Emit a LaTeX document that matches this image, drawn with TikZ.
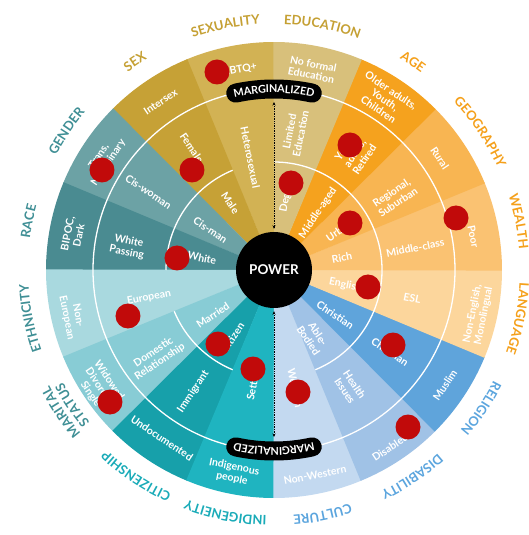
\documentclass[tikz,border=0pt]{standalone}
\usepackage{fontspec}
\setmainfont{Lato}
\usetikzlibrary{decorations.text,arrows.meta}

% sector colours
\definecolor{cSexuality}{HTML}{D2B254}
\definecolor{cSex}{HTML}{C6A136}
\definecolor{cGender}{HTML}{6CA2A5}
\definecolor{cRace}{HTML}{4A8B91}
\definecolor{cEthnicity}{HTML}{A9D9DF}
\definecolor{cMarital}{HTML}{88CCD5}
\definecolor{cCitizen}{HTML}{17A0AA}
\definecolor{cIndig}{HTML}{1FB4C0}
\definecolor{cCulture}{HTML}{C3D9F0}
\definecolor{cDisab}{HTML}{A0C2E6}
\definecolor{cRelig}{HTML}{5FA4DB}
\definecolor{cLang}{HTML}{FCD69C}
\definecolor{cWealth}{HTML}{FAC272}
\definecolor{cGeo}{HTML}{F8B552}
\definecolor{cAge}{HTML}{F5A21E}
\definecolor{cEdu}{HTML}{D8C07B}
% heading colours
\definecolor{hGold}{HTML}{C5A033}
\definecolor{hOrange}{HTML}{F5A01A}
\definecolor{hBlue}{HTML}{5BA5DE}
\definecolor{hTeal}{HTML}{19ABB8}
\definecolor{hDark}{HTML}{3F8F95}
\definecolor{dotred}{HTML}{C10A0A}

\tikzset{
  wedgelabel/.style={text=white, font=\fontsize{10.5}{11.5}\selectfont\bfseries, align=center, inner sep=0pt},
  ringline/.style={white, line width=1.3pt},
  reddot/.style={fill=dotred},
  pill/.style={line width=19pt, line cap=round, black},
  pointer/.style={densely dotted, line width=0.7pt, {Stealth[length=3.5pt,width=3pt]}-{Stealth[length=3.5pt,width=3pt]}},
}

\newcommand\catfont{\fontsize{13}{13}\selectfont\bfseries}
\newcommand\pillfont{\fontsize{10.8}{10.8}\selectfont\bfseries}
% heading set along a clockwise arc: centre angle, radius, colour, text
\newcommand\catlabel[4]{\path[decorate,decoration={text along path,text={|\catfont|#4},text align=center,text color=#3}] ({#1+25}:#2) arc[start angle={#1+25},end angle={#1-25},radius=#2];}

\begin{document}
\begin{tikzpicture}
\useasboundingbox (-274pt,-265pt) rectangle (255pt,270pt);
\fill[white] (-274pt,-265pt) rectangle (255pt,270pt);

% sectors
\foreach \a/\c in {90/cSexuality,112.5/cSex,135/cGender,157.5/cRace,180/cEthnicity,202.5/cMarital,225/cCitizen,247.5/cIndig,270/cCulture,292.5/cDisab,315/cRelig,337.5/cLang,0/cWealth,22.5/cGeo,45/cAge,67.5/cEdu}
  \fill[\c] (0,0) -- ({\a-0.15}:228pt) arc[start angle={\a-0.15},end angle={\a+22.65},radius=228pt] -- cycle;

% ring lines
\draw[ringline] (0,0) circle (181pt);
\draw[ringline] (292.5:108pt) arc[start angle=292.5,end angle=450,radius=108pt];
\draw[ringline] (112.5:108pt) arc[start angle=112.5,end angle=180,radius=108pt];
\draw[ringline] (202.5:108pt) arc[start angle=202.5,end angle=247.5,radius=108pt];

% sector labels
\node[wedgelabel,rotate=11.25] (lgbt) at (100.5:203pt) {LGBTQ+};
\node[wedgelabel,rotate=-78.75] (hetero) at (101.9:115pt) {Heterosexual};
\node[wedgelabel,rotate=33.75] (intersex) at (124:203pt) {Intersex};
\node[wedgelabel,rotate=-56.25] (female) at (124:147pt) {Female};
\node[wedgelabel,rotate=-56.25] (male) at (123:80pt) {Male};
\node[wedgelabel,rotate=56.25] (trans) at (147:203pt) {Trans,\\Non-binary};
\node[wedgelabel,rotate=-33.75] (ciswoman) at (148:148pt) {Cis-woman};
\node[wedgelabel,rotate=-33.75] (cisman) at (148:75pt) {Cis-man};
\node[wedgelabel,rotate=78.75] (bipoc) at (170:204pt) {BIPOC,\\Dark};
\node[wedgelabel,rotate=-11.25] (passing) at (171:148pt) {White\\Passing};
\node[wedgelabel,rotate=-11.25] (white) at (170.5:73pt) {White};
\node[wedgelabel,rotate=281.25] (noneuro) at (193:207pt) {Non-\\European};
\node[wedgelabel,rotate=11.25] (euro) at (192.4:128pt) {European};
\node[wedgelabel,rotate=303.75] (widowed) at (214.1:210pt) {Widowed,\\Divorced,\\Single};
\node[wedgelabel,rotate=33.75] (domestic) at (216.6:146pt) {Domestic\\Relationship};
\node[wedgelabel,rotate=33.75] (married) at (216.4:76pt) {Married};
\node[wedgelabel,rotate=326.25] (undoc) at (236.3:202pt) {Undocumented};
\node[wedgelabel,rotate=56.25] (immig) at (236.4:146pt) {Immigrant};
\node[wedgelabel,rotate=56.25] (citizen) at (238.5:79pt) {Citizen};
\node[wedgelabel,rotate=348.75] (indig) at (258.6:207pt) {Indigenous\\people};
\node[wedgelabel,rotate=78.75] (settler) at (259.7:117pt) {Settler};
\node[wedgelabel,rotate=11.25] (nonwest) at (281.3:209pt) {Non-Western};
\node[wedgelabel,rotate=-78.75] (west) at (280.1:120pt) {Western};
\node[wedgelabel,rotate=33.75] (disabled) at (303.2:212pt) {Disabled};
\node[wedgelabel,rotate=-56.25] (health) at (302.8:140pt) {Health\\Issues};
\node[wedgelabel,rotate=-56.25] (able) at (300.2:78pt) {Able-\\Bodied};
\node[wedgelabel,rotate=56.25] (muslim) at (326.1:206pt) {Muslim};
\node[wedgelabel,rotate=-33.75] (christmid) at (324.7:142pt) {Christian};
\node[wedgelabel,rotate=-33.75] (christin) at (323.6:76pt) {Christian};
\node[wedgelabel,rotate=78.75] (nonenglish) at (347.6:209pt) {Non-English,\\Monolingual};
\node[wedgelabel,rotate=-11.25] (esl) at (348.5:141pt) {ESL};
\node[wedgelabel,rotate=-11.25] (english) at (348.1:73pt) {English};
\node[wedgelabel,rotate=-78.75] (poor) at (9.4:202pt) {Poor};
\node[wedgelabel,rotate=11.25] (midclass) at (8.9:143pt) {Middle-class};
\node[wedgelabel,rotate=11.25] (rich) at (10:69pt) {Rich};
\node[wedgelabel,rotate=-56.25] (rural) at (34:200pt) {Rural};
\node[wedgelabel,rotate=33.75] (regional) at (31.1:141pt) {Regional,\\Suburban};
\node[wedgelabel,rotate=33.75] (urban) at (31:76pt) {Urban};
\node[wedgelabel,rotate=-33.75] (older) at (56.9:203pt) {Older adults,\\Youth,\\Children};
\node[wedgelabel,rotate=56.25] (young) at (55.3:142pt) {Young\\adults,\\Retired};
\node[wedgelabel,rotate=56.25] (midaged) at (52.3:72pt) {Middle-aged};
\node[wedgelabel,rotate=-11.25] (noformal) at (79.2:204pt) {No formal\\Education};
\node[wedgelabel,rotate=78.75] (limited) at (81.3:139pt) {Limited\\Education};
\node[wedgelabel,rotate=78.75] (degree) at (80.2:76pt) {Degree};

% markers
\foreach \x/\y in {-57/198,-172/100,-82/100,-97/12,76/125,17/87,76/47,182/52,-146/-46,-56/-74,-21/-99,-164/-132,94/-17,119/-75,24/-122,134/-157}
  \fill[reddot] (\x pt,\y pt) circle (12.5pt);

% centre
\node[circle,fill=black,minimum size=76pt,inner sep=0pt,text=white,font=\fontsize{13.5}{13.5}\selectfont\bfseries] (power) at (0,0) {POWER};

% marginalized tags on the ring
\draw[pill] (102.2:181pt) arc[start angle=102.2,end angle=77.8,radius=181pt];
\draw[pill] (282.2:181pt) arc[start angle=282.2,end angle=257.8,radius=181pt];
\path[decorate,decoration={text along path,text={|\pillfont|MARGINALIZED},text align=center,text color=white,raise=-3.8pt}] (115:181pt) arc[start angle=115,end angle=65,radius=181pt];
\path[decorate,decoration={text along path,text={|\pillfont|MARGINALIZED},text align=center,text color=white,raise=-3.8pt}] (295:181pt) arc[start angle=295,end angle=245,radius=181pt];
\coordinate (mtop) at (0,168pt);
\coordinate (mbot) at (0,-167pt);
\draw[pointer] (mtop) -- ([yshift=3pt]power.north);
\draw[pointer] ([yshift=-3pt]power.south) -- (mbot);

% headings
\catlabel{101.25}{246pt}{hGold}{SEXUALITY}
\catlabel{123.75}{246pt}{hGold}{SEX}
\catlabel{78.75}{246pt}{hGold}{EDUCATION}
\catlabel{56.25}{246pt}{hOrange}{AGE}
\catlabel{33.75}{246pt}{hOrange}{GEOGRAPHY}
\catlabel{11.25}{246pt}{hOrange}{WEALTH}
\catlabel{-11.25}{246pt}{hOrange}{LANGUAGE}
\catlabel{-33.75}{246pt}{hBlue}{RELIGION}
\catlabel{-56.25}{246pt}{hBlue}{DISABILITY}
\catlabel{-78.75}{246pt}{hBlue}{CULTURE}
\catlabel{-101.25}{246pt}{hTeal}{INDIGENEITY}
\catlabel{-123.75}{246pt}{hTeal}{CITIZENSHIP}
\catlabel{213.75}{253pt}{hDark}{MARITAL}
\catlabel{213.75}{239pt}{hDark}{STATUS}
\catlabel{191.25}{246pt}{hDark}{ETHNICITY}
\catlabel{168.75}{246pt}{hDark}{RACE}
\catlabel{146.25}{246pt}{hDark}{GENDER}
\end{tikzpicture}
\end{document}
